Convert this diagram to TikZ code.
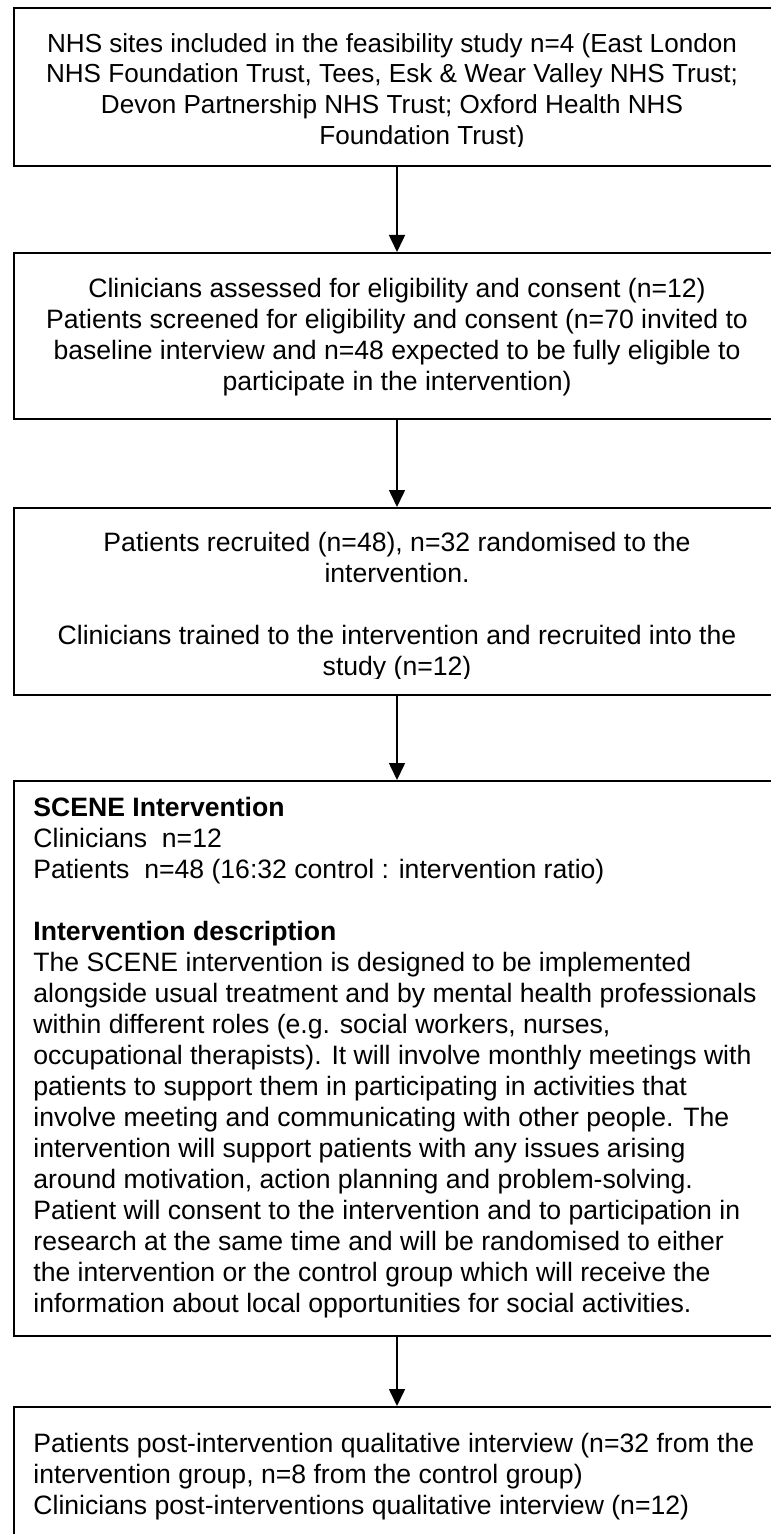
\documentclass[tikz,border=0pt]{standalone}
\usepackage{fontspec}
\setmainfont{Liberation Sans}
\usetikzlibrary{arrows.meta}

\begin{document}
\begin{tikzpicture}[
    x=0.5pt, y=-0.5pt,
    box/.style={draw,line width=1.1pt,rectangle,anchor=north west,minimum width=400pt,inner sep=0pt},
    txt/.style={inner sep=0pt,anchor=north,align=center,font=\fontsize{13.3pt}{15.5pt}\selectfont},
    ltxt/.style={inner sep=0pt,anchor=north west,align=left,font=\fontsize{13.3pt}{15.5pt}\selectfont},
    arr/.style={-{Triangle[length=8.5pt,width=8pt]},line width=0.8pt},
]

    \useasboundingbox (0,0) rectangle (770,1534);

    % boxes (they run off the right edge of the page)
    \node[box,minimum height=79pt] (sites) at (13,7) {};
    \node[box,minimum height=83pt] (screen) at (13,252) {};
    \node[box,minimum height=93.5pt] (recruit) at (13,507) {};
    \node[box,minimum height=277.5pt] (scene) at (13,780) {};
    \node[box,minimum height=80pt] (post) at (13,1406) {};

    % texts
    \begin{scope}
        \clip (13,7) rectangle (770,147);
        \node[txt,font=\fontsize{13.05pt}{15.3pt}\selectfont] (sitestxt) at (392,33) {NHS sites included in the feasibility study n=4 (East London\\
            NHS Foundation Trust, Tees, Esk \& Wear Valley NHS Trust;\\
            Devon Partnership NHS Trust; Oxford Health NHS\\
            \hspace*{30pt}Foundation Trust)};
    \end{scope}
    \node[txt] (screentxt) at (397,278) {Clinicians assessed for eligibility and consent (n=12)\\
        Patients screened for eligibility and consent (n=70 invited to\\
        baseline interview and n=48 expected to be fully eligible to\\
        participate in the intervention)};
    \begin{scope}
        \clip (13,507) rectangle (770,678);
        \node[txt] (recruittxt) at (397,532) {Patients recruited (n=48), n=32 randomised to the\\
            intervention.\\[15.5pt]
            Clinicians trained to the intervention and recruited into the\\
            study (n=12)};
    \end{scope}
    \node[ltxt] (scenetxt) at (33,797) {\textbf{SCENE Intervention}\\
        Clinicians\ \ n=12\\
        Patients\ \ n=48 (16:32 control : intervention ratio)\\[15.5pt]
        \textbf{Intervention description}\\
        The SCENE intervention is designed to be implemented\\
        alongside usual treatment and by mental health professionals\\
        within different roles (e.g. social workers, nurses,\\
        occupational therapists). It will involve monthly meetings with\\
        patients to support them in participating in activities that\\
        involve meeting and communicating with other people. The\\
        intervention will support patients with any issues arising\\
        around motivation, action planning and problem-solving.\\
        Patient will consent to the intervention and to participation in\\
        research at the same time and will be randomised to either\\
        the intervention or the control group which will receive the\\
        information about local opportunities for social activities.};
    \node[ltxt] (posttxt) at (33,1433) {Patients post-intervention qualitative interview (n=32 from the\\
        intervention group, n=8 from the control group)\\
        Clinicians post-interventions qualitative interview (n=12)};

    \coordinate (axis) at (397,0);

    \path[arr]
        (axis |- sites.south) edge (axis |- screen.north)
        (axis |- screen.south) edge (axis |- recruit.north)
        (axis |- recruit.south) edge (axis |- scene.north)
        (axis |- scene.south) edge (axis |- post.north)
    ;

\end{tikzpicture}
\end{document}
